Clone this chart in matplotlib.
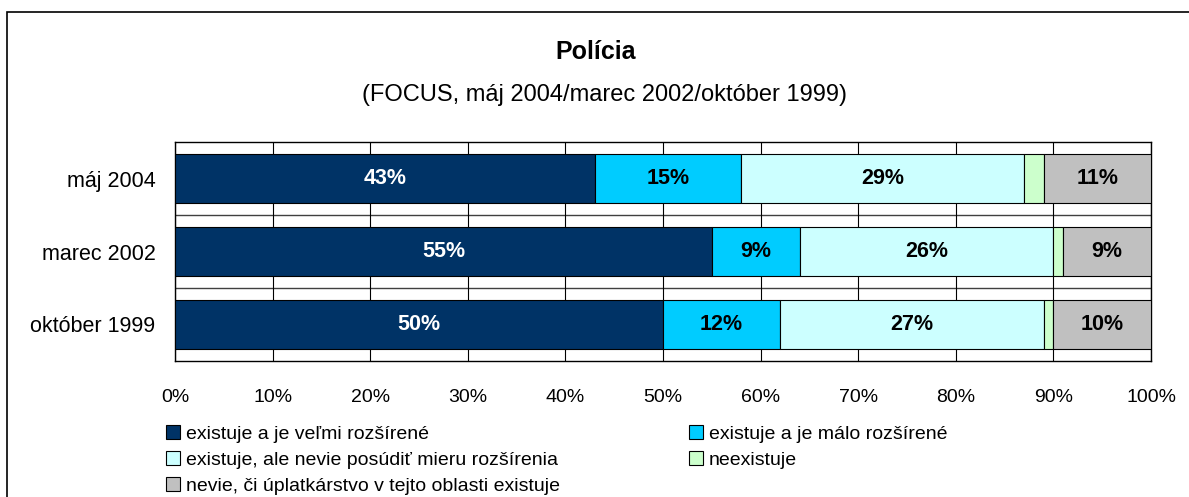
import matplotlib
matplotlib.use('Agg')
import matplotlib.pyplot as plt
from matplotlib.patches import Rectangle, Patch

plt.rcParams['font.family'] = ['Liberation Sans', 'DejaVu Sans']

categories = ['máj 2004', 'marec 2002', 'október 1999']
series_names = ['existuje a je veľmi rozšírené',
                'existuje a je málo rozšírené',
                'existuje, ale nevie posúdiť mieru rozšírenia',
                'neexistuje',
                'nevie, či úplatkárstvo v tejto oblasti existuje']
values = [
    [43, 55, 50],   # velmi rozsirene
    [15, 9, 12],    # malo rozsirene
    [29, 26, 27],   # nevie posudit
    [2, 1, 1],      # neexistuje
    [11, 9, 10],    # nevie ci
]
colors = ['#003366', '#00CCFF', '#CCFFFF', '#CCFFCC', '#C0C0C0']
text_colors = ['white', 'black', 'black', None, 'black']

fig = plt.figure(figsize=(11.89, 4.97), dpi=100)
ax = fig.add_axes([175 / 1189, 1 - 361 / 497, (1151 - 175) / 1189, (361 - 142) / 497])

# outer frame
fig.patches.append(Rectangle((7 / 1189, -0.1), 1.2, 1 - 12 / 497 + 0.1,
                             transform=fig.transFigure, fill=False,
                             edgecolor='black', linewidth=1.2))

ypos = list(range(len(categories)))
left = [0] * len(categories)
for i, vals in enumerate(values):
    ax.barh(ypos, vals, left=left, height=0.66, color=colors[i],
            edgecolor='black', linewidth=0.8, label=series_names[i], zorder=3)
    if text_colors[i]:
        for j, v in enumerate(vals):
            ax.text(left[j] + v / 2, ypos[j], f'{v}%', ha='center', va='center',
                    fontsize=15.5, fontweight='bold', color=text_colors[i], zorder=4)
    left = [l + v for l, v in zip(left, vals)]

ax.set_xlim(0, 100)
ax.set_ylim(2.5, -0.5)
ax.set_xticks(range(0, 101, 10))
ax.set_xticklabels([f'{t}%' for t in range(0, 101, 10)], fontsize=14)
ax.set_yticks(ypos)
ax.set_yticklabels(categories, fontsize=15.5)
ax.tick_params(axis='x', length=0, pad=20)
ax.tick_params(axis='y', length=0, pad=14)
ax.grid(axis='x', color='black', linewidth=0.8, zorder=0)
for b in [0.5, 1.5]:
    ax.axhline(b, color='#404040', linewidth=1.0, zorder=1)
for s in ax.spines.values():
    s.set_linewidth(1.0)

fig.text(596 / 1189, 1 - 52 / 497, 'Polícia', ha='center', va='center',
         fontsize=18, fontweight='bold')
fig.text(604 / 1189, 1 - 95 / 497, '(FOCUS, máj 2004/marec 2002/október 1999)',
         ha='center', va='center', fontsize=17)

handles = [Patch(facecolor=c, edgecolor='black', linewidth=0.8) for c in colors]
order = [0, 2, 4, 1, 3]
fig.legend([handles[k] for k in order], [series_names[k] for k in order],
           ncol=2, loc='upper left', bbox_to_anchor=(158 / 1189, 1 - 417 / 497),
           frameon=False, fontsize=14, handlelength=0.75, handleheight=0.75,
           handletextpad=0.3, labelspacing=0.42, columnspacing=6.6, borderaxespad=0)

fig.savefig('out.png', dpi=100)
